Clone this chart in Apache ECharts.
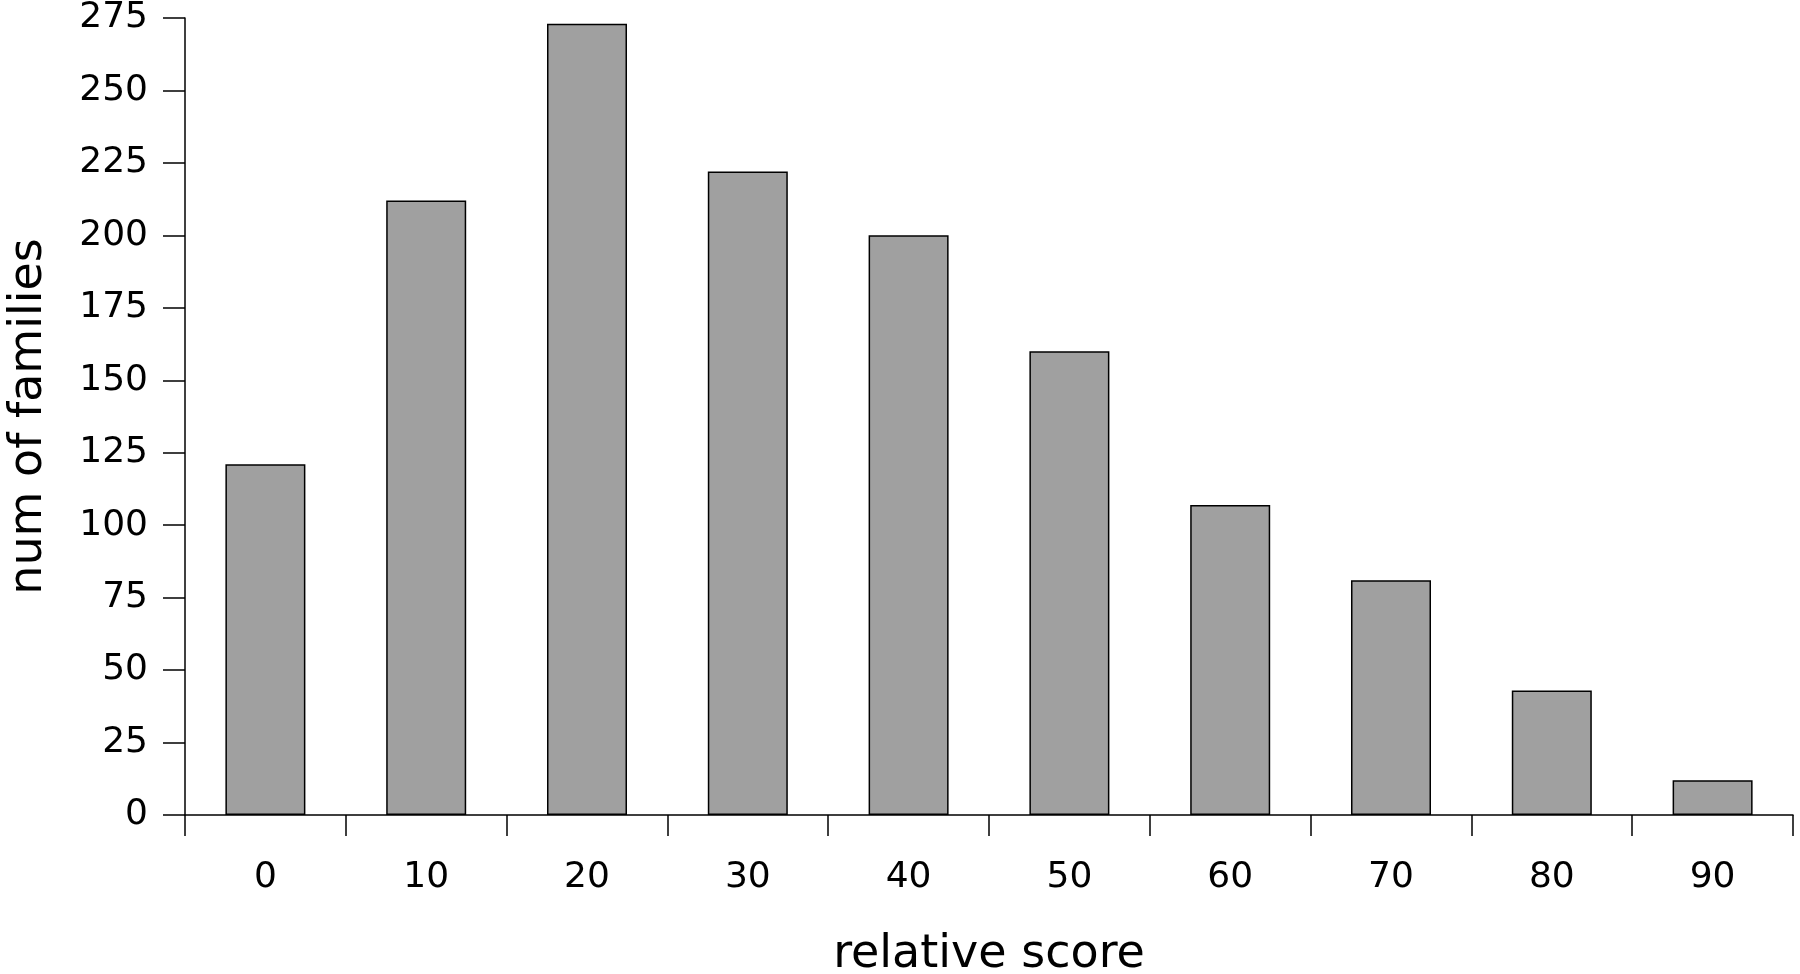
<!DOCTYPE html>
<html>
<head>
<meta charset="utf-8">
<script src="https://cdn.jsdelivr.net/npm/echarts@6/dist/echarts.min.js"></script>
<style>
  html, body { margin: 0; padding: 0; background: #fff; }
  #chart { width: 1800px; height: 974px; }
</style>
</head>
<body>
<div id="chart"></div>
<script>
const categories = ['0', '10', '20', '30', '40', '50', '60', '70', '80', '90'];
const families = [121, 212, 273, 222, 200, 160, 107, 81, 43, 12];

const chart = echarts.init(document.getElementById('chart'));
const font = 'DejaVu Sans';

const option = {
    animation: false,
    // keep the plot box fixed, names sit close to the canvas edge
    grid: { left: 185, right: 7, top: 18, bottom: 159, outerBoundsMode: 'none' },
    xAxis: {
        type: 'category',
        data: categories,
        name: 'relative score',
        nameLocation: 'middle',
        nameGap: 117,
        nameTextStyle: { fontFamily: font, fontSize: 46, color: '#000' },
        axisLine: { lineStyle: { color: '#000', width: 1.5 } },
        axisTick: { show: true, length: 21, lineStyle: { color: '#000', width: 1.5 } },
        axisLabel: { fontFamily: font, fontSize: 36, color: '#000', margin: 45 },
    },
    yAxis: {
        type: 'value',
        min: 0,
        max: 275,
        interval: 25,
        name: 'num of families',
        nameLocation: 'middle',
        nameGap: 133,
        nameTextStyle: { fontFamily: font, fontSize: 46, color: '#000' },
        axisLine: { show: true, lineStyle: { color: '#000', width: 1.5 } },
        axisTick: { show: true, length: 22, lineStyle: { color: '#000', width: 1.5 } },
        axisLabel: { fontFamily: font, fontSize: 36, color: '#000', margin: 37 },
        splitLine: { show: false },
    },
    series: [{
        type: 'bar',
        data: families,
        barWidth: 80,
        itemStyle: { color: '#a0a0a0', borderColor: '#000', borderWidth: 1.5 },
    }],
};

chart.setOption(option);
</script>
</body>
</html>
